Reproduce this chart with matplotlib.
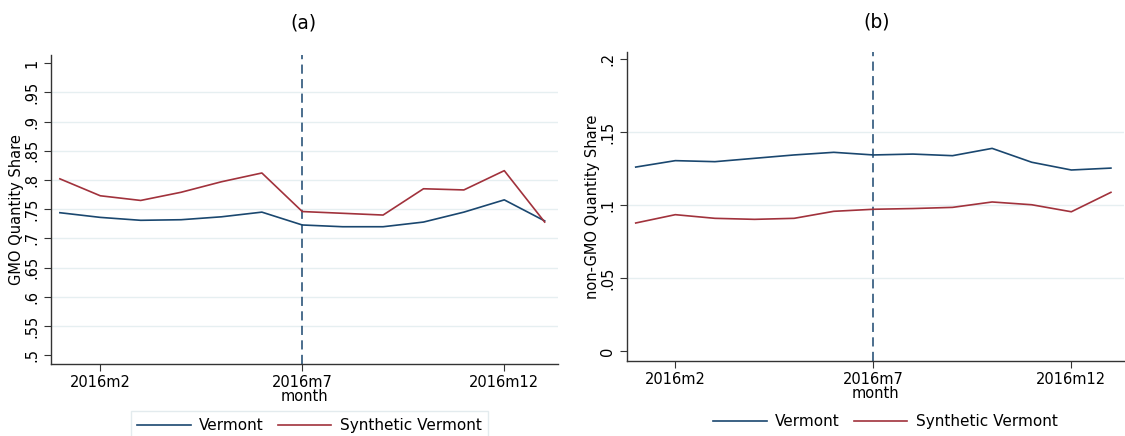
import numpy as np
import matplotlib.pyplot as plt

# monthly panel, 2016m1 .. 2017m1
months = np.arange(1, 14)
tick_months = [2, 7, 12]
tick_labels = ['2016m2', '2016m7', '2016m12']
treat_month = 7

gmo_vermont = [0.744, 0.736, 0.731, 0.732, 0.737, 0.745, 0.723,
               0.720, 0.720, 0.728, 0.745, 0.766, 0.730]
gmo_synth = [0.802, 0.773, 0.765, 0.779, 0.797, 0.812, 0.746,
             0.743, 0.740, 0.785, 0.783, 0.816, 0.728]

nongmo_vermont = [0.1262, 0.1306, 0.1299, 0.1322, 0.1345, 0.1363, 0.1345,
                  0.1351, 0.1340, 0.1390, 0.1295, 0.1242, 0.1255]
nongmo_synth = [0.0879, 0.0936, 0.0911, 0.0904, 0.0911, 0.0959, 0.0973,
                0.0978, 0.0986, 0.1023, 0.1004, 0.0956, 0.1089]

gmo_ticks = [0.5, 0.55, 0.6, 0.65, 0.7, 0.75, 0.8, 0.85, 0.9, 0.95, 1.0]
gmo_tick_labels = ['.5', '.55', '.6', '.65', '.7', '.75', '.8', '.85', '.9', '.95', '1']
nongmo_ticks = [0, 0.05, 0.1, 0.15, 0.2]
nongmo_tick_labels = ['0', '.05', '.1', '.15', '.2']

navy = '#1a476f'
maroon = '#a1323c'
grid_col = '#e6eff1'
axis_col = '#333333'

plt.rcParams['font.family'] = 'DejaVu Sans'

fig = plt.figure(figsize=(11.25, 4.36), dpi=100)
W, H = 1125.0, 436.0


def panel(rect, yv, ys, yticks, ylabels, ylim, ylab, ylab_x, title, title_xy):
    l, t, r, b = rect
    ax = fig.add_axes([l / W, 1 - b / H, (r - l) / W, (b - t) / H])
    # gridlines only on interior ticks
    for v in yticks[1:-1]:
        ax.axhline(v, color=grid_col, lw=1.0, zorder=0)
    ax.axvline(treat_month, color=navy, lw=1.1, ls=(0, (6, 3.5)), zorder=1)
    l1, = ax.plot(months, yv, color=navy, lw=1.2, zorder=3)
    l2, = ax.plot(months, ys, color=maroon, lw=1.2, zorder=3)
    ax.set_xlim(0.78, 13.33)
    ax.set_ylim(*ylim)
    ax.set_xticks(tick_months)
    ax.set_xticklabels(tick_labels, fontsize=10.5)
    ax.set_yticks(yticks)
    ax.set_yticklabels(ylabels, rotation=90, va='center', fontsize=10.5)
    ax.set_xlabel('month', fontsize=10.5, labelpad=-1)
    ax.set_ylabel(ylab, fontsize=10.5)
    ax.yaxis.set_label_coords((ylab_x - l) / (r - l), 0.5)
    fig.text(title_xy[0] / W, 1 - title_xy[1] / H, title, fontsize=13.5,
             ha='center', va='center')
    for s in ['top', 'right']:
        ax.spines[s].set_visible(False)
    for s in ['left', 'bottom']:
        ax.spines[s].set_color(axis_col)
        ax.spines[s].set_linewidth(1.0)
    ax.tick_params(direction='out', length=5, width=0.8, color=axis_col)
    ax.tick_params(axis='x', pad=3)
    ax.tick_params(axis='y', pad=3.5)
    return ax, l1, l2


axa, a1, a2 = panel((51, 55, 558, 364), gmo_vermont, gmo_synth,
                    gmo_ticks, gmo_tick_labels, (0.485, 1.014),
                    'GMO Quantity Share', 24, '(a)', (303, 23))
axb, b1, b2 = panel((627, 52, 1124, 361), nongmo_vermont, nongmo_synth,
                    nongmo_ticks, nongmo_tick_labels, (-0.0066, 0.205),
                    'non-GMO Quantity Share', 600, '(b)', (877, 22))

leg_kw = dict(ncol=2, loc='center', fontsize=11, handlelength=3.5,
              handletextpad=0.55, columnspacing=0.9)

leg_a = fig.legend([a1, a2], ['Vermont', 'Synthetic Vermont'],
                   bbox_to_anchor=(309.5 / W, 1 - 425.7 / H),
                   frameon=True, fancybox=False, borderpad=0.45, **leg_kw)
leg_a.get_frame().set_edgecolor('#dde7ea')
leg_a.get_frame().set_linewidth(1.0)

fig.legend([b1, b2], ['Vermont', 'Synthetic Vermont'],
           bbox_to_anchor=(885.5 / W, 1 - 421.7 / H),
           frameon=False, borderpad=0.0, **leg_kw)

fig.savefig('out.png', dpi=100)
